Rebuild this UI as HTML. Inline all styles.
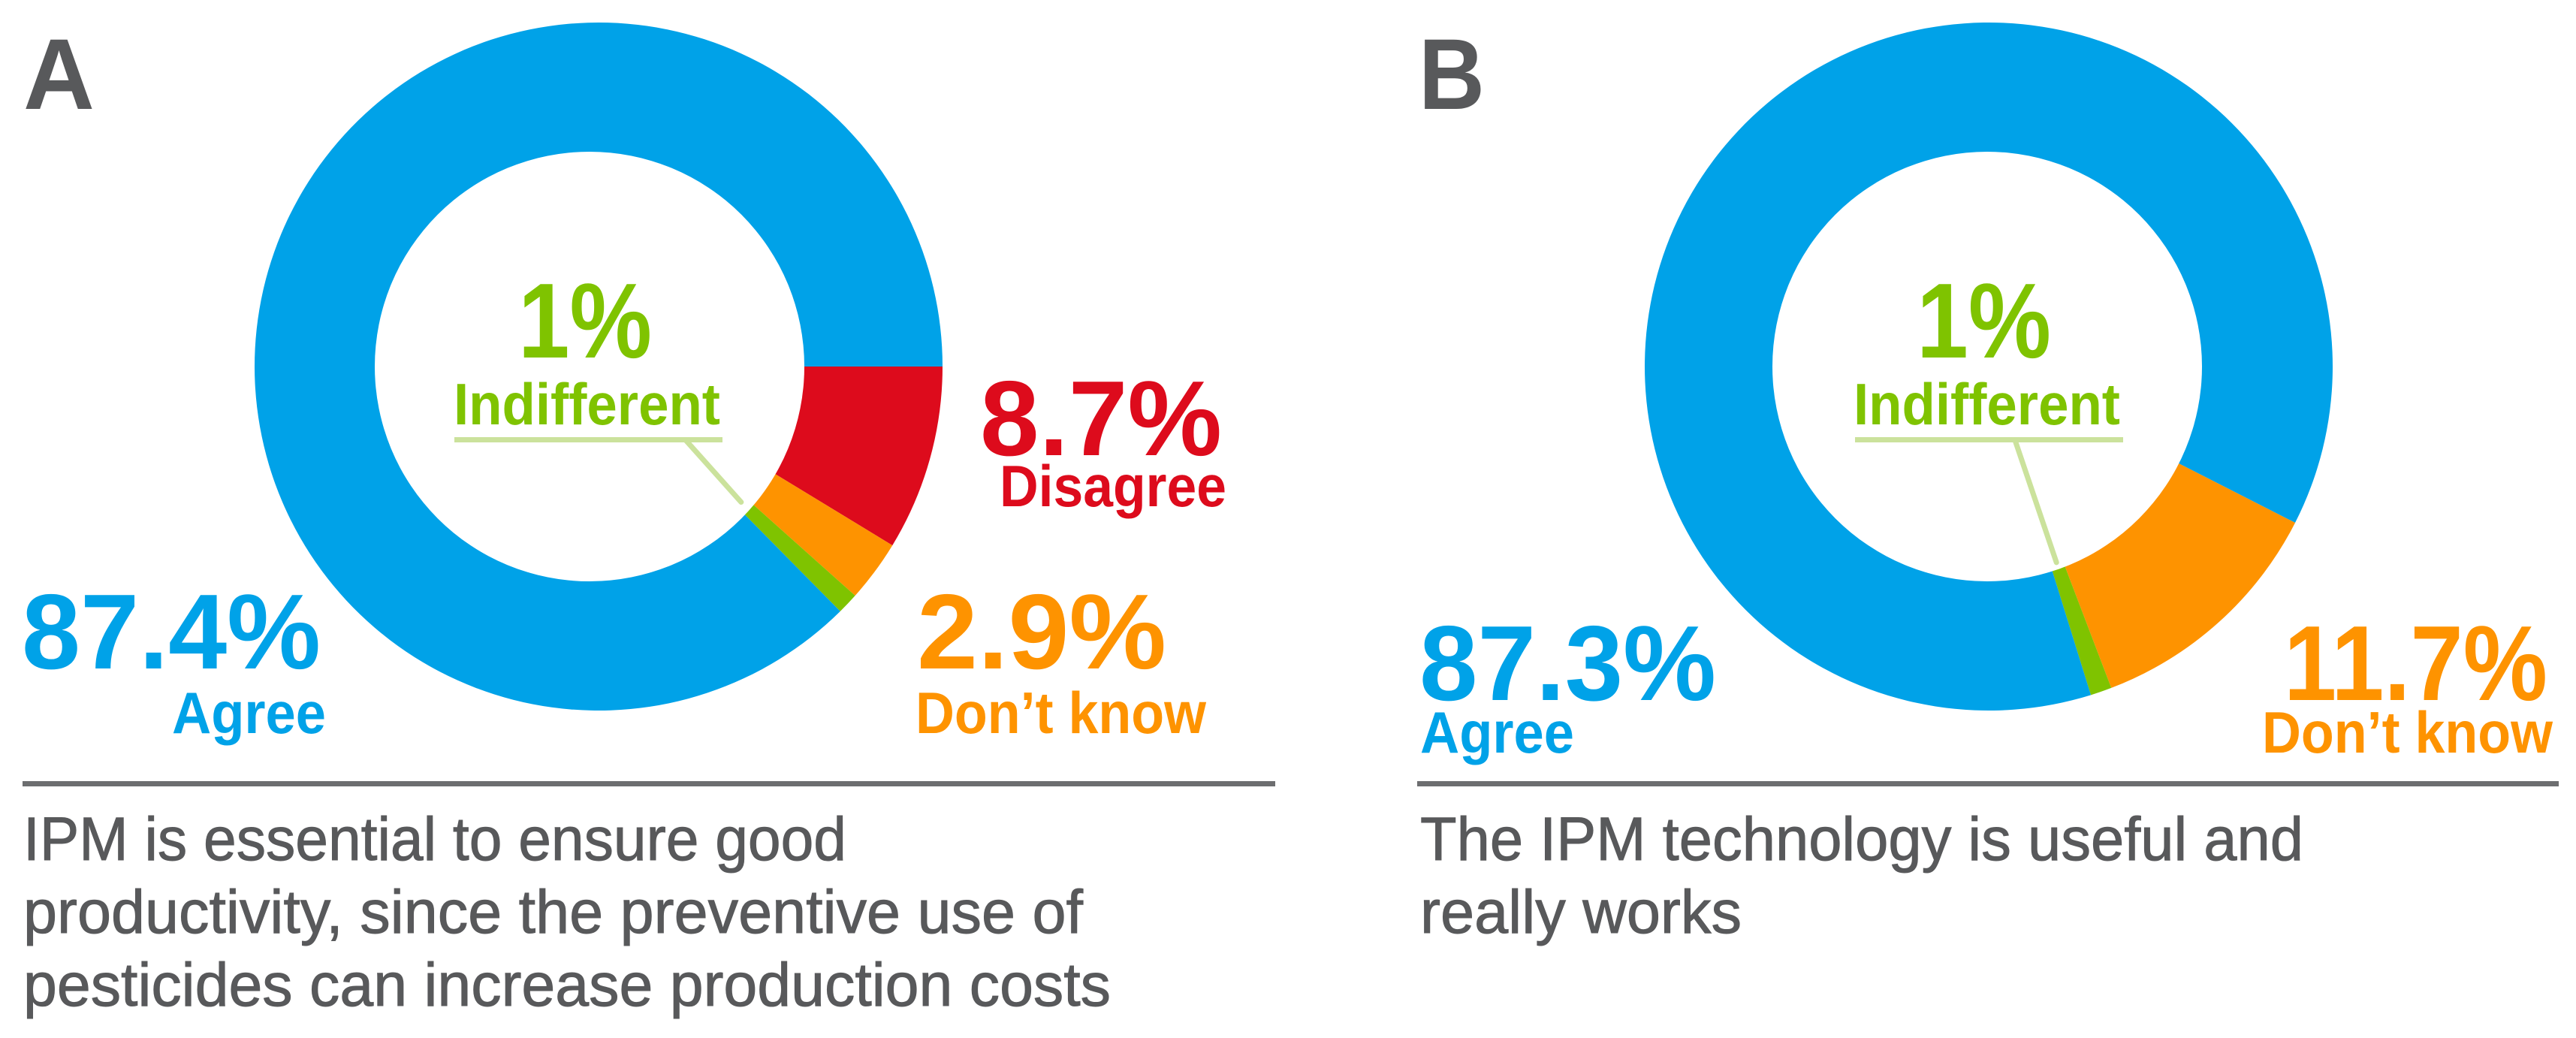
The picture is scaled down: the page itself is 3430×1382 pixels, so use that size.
<!DOCTYPE html>
<html lang="en">
<head>
<meta charset="utf-8">
<title>IPM survey donut charts</title>
<style>
html,body{margin:0;padding:0;background:#fff;}
svg{display:block;}
text{font-family:"Liberation Sans",sans-serif;}
.cap{font-size:82px;fill:#58595b;stroke:#58595b;stroke-width:1px;}
.letter{font-size:134px;font-weight:700;fill:#58595b;}
</style>
</head>
<body>
<svg id="chart" xmlns="http://www.w3.org/2000/svg" width="3430" height="1382" viewBox="0 0 3430 1382">
  <rect x="0" y="0" width="3430" height="1382" fill="#ffffff"/>
  <g id="panel-a">
    <text class="letter" x="31" y="145" textLength="95" lengthAdjust="spacingAndGlyphs">A</text>
    <rect x="30" y="1040" width="1668" height="7" fill="#6d6e70"/>
    <text class="cap" x="31" y="1145" textLength="1096" lengthAdjust="spacingAndGlyphs">IPM is essential to ensure good</text>
    <text class="cap" x="31" y="1242" textLength="1411" lengthAdjust="spacingAndGlyphs">productivity, since the preventive use of</text>
    <text class="cap" x="31" y="1339" textLength="1448" lengthAdjust="spacingAndGlyphs">pesticides can increase production costs</text>
  </g>
  <g id="panel-b">
    <text class="letter" x="1889" y="145" textLength="88" lengthAdjust="spacingAndGlyphs">B</text>
    <rect x="1887" y="1040" width="1520" height="7" fill="#6d6e70"/>
    <text class="cap" x="1891" y="1145" textLength="1176" lengthAdjust="spacingAndGlyphs">The IPM technology is useful and</text>
    <text class="cap" x="1891" y="1242" textLength="428" lengthAdjust="spacingAndGlyphs">really works</text>
  </g>
</svg>
<script>
const categoriesA = ['Disagree', 'Don\u2019t know', 'Indifferent', 'Agree'];
const valuesA = [8.7, 2.9, 1, 87.4];
const categoriesB = ['Don\u2019t know', 'Indifferent', 'Agree'];
const valuesB = [11.7, 1, 87.3];

const SVG_NS = 'http://www.w3.org/2000/svg';
const palette = {
  'Disagree': '#dd0b1c',
  'Don\u2019t know': '#fe9300',
  'Indifferent': '#7fc300',
  'Agree': '#00a2e8'
};

function slug(s) {
  return s.toLowerCase().replace(/[^a-z]+/g, '-');
}

function polar(cx, cy, r, deg) {
  const a = deg * Math.PI / 180;
  return [cx + r * Math.cos(a), cy + r * Math.sin(a)];
}

function angleScale(values, rotation) {
  const total = values.reduce(function (s, v) { return s + v; }, 0);
  return function (cum) { return rotation + cum / total * 360; };
}

function addText(parent, str, x, y, size, width, color, name) {
  const t = document.createElementNS(SVG_NS, 'text');
  t.setAttribute('x', x);
  t.setAttribute('y', y);
  t.setAttribute('font-size', size);
  t.setAttribute('font-weight', '700');
  t.setAttribute('fill', color);
  t.setAttribute('textLength', width);
  t.setAttribute('lengthAdjust', 'spacingAndGlyphs');
  
  
  t.textContent = str;
  parent.appendChild(t);
}

function drawDonut(parent, categories, values, geom, labels) {
  const angle = angleScale(values, geom.rotation);
  let cum = 0;
  categories.forEach(function (cat, i) {
    const a0 = angle(cum);
    const a1 = angle(cum + values[i]);
    cum += values[i];
    const p0 = polar(geom.cx, geom.cy, geom.r, a0);
    const p1 = polar(geom.cx, geom.cy, geom.r, a1);
    const large = (a1 - a0) > 180 ? 1 : 0;
    const path = document.createElementNS(SVG_NS, 'path');
    path.setAttribute('d', 'M' + geom.cx + ' ' + geom.cy + 'L' + p0[0] + ' ' + p0[1] +
      'A' + geom.r + ' ' + geom.r + ' 0 ' + large + ' 1 ' + p1[0] + ' ' + p1[1] + 'Z');
    path.setAttribute('fill', palette[cat]);
    
    
    parent.appendChild(path);
  });

  const hole = document.createElementNS(SVG_NS, 'circle');
  hole.setAttribute('cx', geom.hx);
  hole.setAttribute('cy', geom.cy);
  hole.setAttribute('r', geom.hr);
  hole.setAttribute('fill', '#ffffff');
  
  
  parent.appendChild(hole);

  // Leader from the Indifferent label to the middle of its slice
  const idx = categories.indexOf('Indifferent');
  let before = 0;
  for (let k = 0; k < idx; k++) { before += values[k]; }
  const mid = angle(before + values[idx] / 2);
  const end = polar(geom.cx, geom.cy, geom.leaderR, mid);
  const leader = document.createElementNS(SVG_NS, 'line');
  leader.setAttribute('x1', geom.leaderX);
  leader.setAttribute('y1', 586);
  leader.setAttribute('x2', end[0]);
  leader.setAttribute('y2', end[1]);
  leader.setAttribute('stroke', '#cbe29c');
  leader.setAttribute('stroke-width', 7);
  leader.setAttribute('stroke-linecap', 'round');
  
  
  parent.appendChild(leader);

  const rule = document.createElementNS(SVG_NS, 'rect');
  rule.setAttribute('x', geom.ruleX);
  rule.setAttribute('y', 582);
  rule.setAttribute('width', 357);
  rule.setAttribute('height', 7);
  rule.setAttribute('fill', '#cbe29c');
  
  
  parent.appendChild(rule);

  categories.forEach(function (cat, i) {
    const l = labels[cat];
    addText(parent, values[i] + '%', l.vx, l.vy, l.vs, l.vw, palette[cat], 'value-' + slug(cat));
    addText(parent, cat, l.nx, l.ny, 78, l.nw, palette[cat], 'label-' + slug(cat));
  });
}

drawDonut(document.getElementById('panel-a'), categoriesA, valuesA,
  { cx: 797, cy: 488, r: 458, hx: 785, hr: 286, rotation: 0, leaderR: 262, leaderX: 913, ruleX: 605 },
  {
    'Disagree':    { vx: 1305, vy: 606, vs: 142, vw: 322, nx: 1331, ny: 674, nw: 302 },
    'Don\u2019t know': { vx: 1221, vy: 890, vs: 142, vw: 332, nx: 1219, ny: 976, nw: 387 },
    'Indifferent': { vx: 690, vy: 476, vs: 142, vw: 178, nx: 604, ny: 565, nw: 355 },
    'Agree':       { vx: 29, vy: 890, vs: 142, vw: 398, nx: 229, ny: 976, nw: 205 }
  });

drawDonut(document.getElementById('panel-b'), categoriesB, valuesB,
  { cx: 2648, cy: 488, r: 458, hx: 2646, hr: 286, rotation: 27, leaderR: 276, leaderX: 2683, ruleX: 2470 },
  {
    'Don\u2019t know': { vx: 3041, vy: 932, vs: 142, vw: 351, nx: 3012, ny: 1002, nw: 387 },
    'Indifferent': { vx: 2552, vy: 476, vs: 142, vw: 179, nx: 2468, ny: 565, nw: 355 },
    'Agree':       { vx: 1890, vy: 932, vs: 142, vw: 395, nx: 1891, ny: 1002, nw: 205 }
  });
</script>
</body>
</html>
